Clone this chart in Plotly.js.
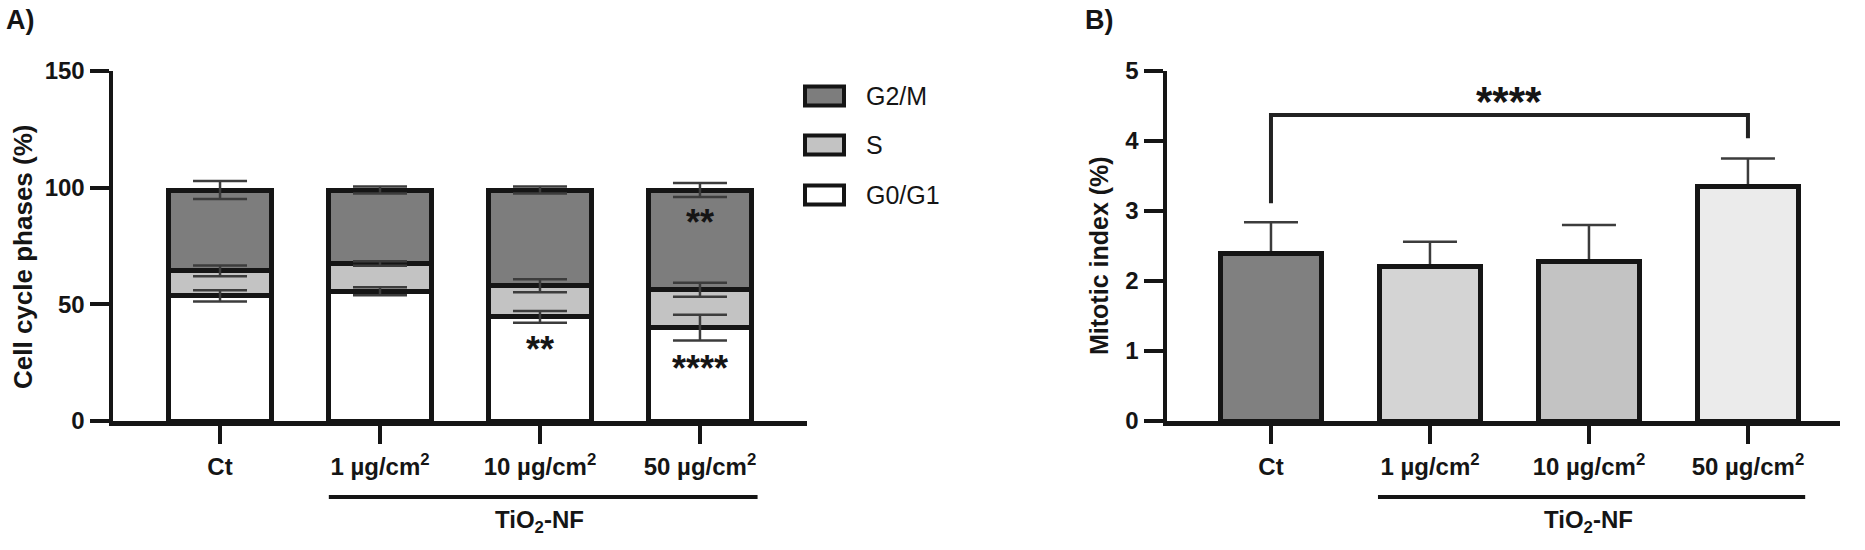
<!DOCTYPE html>
<html>
<head>
<meta charset="utf-8">
<script src="https://cdn.plot.ly/plotly-3.0.1.min.js"></script>
<style>html,body{margin:0;padding:0;background:#fff;}#chart{width:1865px;height:550px;}</style>
</head>
<body>
<div id="chart"></div>
<script>
// ---------- data ----------
const categories = ['Ct', '1 µg/cm<sup>2</sup>', '10 µg/cm<sup>2</sup>', '50 µg/cm<sup>2</sup>'];
const phaseNames = ['G2/M', 'S', 'G0/G1'];
const g0g1 = [53.6, 55.6, 44.6, 40.0];
const g0g1Err = [2.4, 1.7, 2.5, 5.5];
const sPhase = [10.7, 11.9, 13.4, 16.2];
const sErr = [2.3, 1.0, 2.8, 3.0];
const g2m = [34.7, 31.5, 41.0, 42.8];
const g2mErr = [3.9, 1.5, 1.5, 3.0];
const mitotic = [2.40, 2.21, 2.28, 3.35];
const mitoticErr = [0.44, 0.35, 0.52, 0.40];
const yTicksA = [0, 50, 100, 150];
const yTicksB = [0, 1, 2, 3, 4, 5];

// ---------- styles ----------
const FONT = 'Liberation Sans, Arial, Helvetica, sans-serif';
const INK = '#151515';
const ERRC = '#3c3c3c';
const W = 1865, H = 550;
const px = v => v / W;
const py = v => 1 - v / H;
const phaseFill = {'G2/M': '#7d7d7d', 'S': '#c3c3c3', 'G0/G1': '#ffffff'};
const mitoticFill = ['#808080', '#d4d4d4', '#c3c3c3', '#ebebeb'];
const BARW = 0.64;

const cumS = g0g1.map((v, i) => v + sPhase[i]);
const cumAll = cumS.map((v, i) => v + g2m[i]);

const barLine = {color: INK, width: 5};
const traces = [];
// stacked bars (panel A)
[['G0/G1', g0g1], ['S', sPhase], ['G2/M', g2m]].forEach(([name, vals]) => {
  traces.push({type: 'bar', name: name, x: categories, y: vals, width: BARW,
    marker: {color: phaseFill[name], line: barLine}, xaxis: 'x', yaxis: 'y', hoverinfo: 'skip'});
});
// error bars on top of each stacked segment
[[g0g1, g0g1Err], [cumS, sErr], [cumAll, g2mErr]].forEach(([tops, errs]) => {
  traces.push({type: 'scatter', mode: 'markers', x: categories, y: tops,
    marker: {size: 1, color: 'rgba(0,0,0,0)'},
    error_y: {type: 'data', array: errs, symmetric: true, color: ERRC, thickness: 2.5, width: 27},
    xaxis: 'x', yaxis: 'y', hoverinfo: 'skip'});
});
// panel B: error bars in the base subplot (beneath), bars in an overlay subplot (above)
traces.push({type: 'scatter', mode: 'markers', x: categories, y: mitotic,
  marker: {size: 1, color: 'rgba(0,0,0,0)'},
  error_y: {type: 'data', array: mitoticErr, symmetric: true, color: ERRC, thickness: 2.5, width: 27},
  xaxis: 'x2', yaxis: 'y2', hoverinfo: 'skip'});
traces.push({type: 'bar', x: categories, y: mitotic, width: BARW,
  marker: {color: mitoticFill, line: barLine},
  xaxis: 'x3', yaxis: 'y3', hoverinfo: 'skip'});
// significance bracket (panel B): Ct vs 50 µg/cm2
const bracketTop = 4.37, bracketLeftEnd = 3.11, bracketRightEnd = 4.04;
traces.push({type: 'scatter', mode: 'lines',
  x: [categories[0], categories[0], categories[3], categories[3]],
  y: [bracketLeftEnd, bracketTop, bracketTop, bracketRightEnd],
  line: {color: '#222', width: 4}, xaxis: 'x2', yaxis: 'y2', hoverinfo: 'skip'});

const yDom = [py(421), py(71)];
const axCommon = {
  showline: true, linewidth: 4.5, linecolor: INK, showgrid: false, zeroline: false,
  ticks: 'outside', tickwidth: 4, tickcolor: INK, fixedrange: true
};
const xTickFont = {family: FONT, size: 24, color: INK, weight: 'bold'};
const yTickFont = {family: FONT, size: 24, color: INK, weight: 'bold'};
const rangeA = [-0.669, 3.669];
const rangeB = [-0.654, 3.579];

const layout = {
  width: W, height: H, margin: {l: 0, r: 0, t: 0, b: 0},
  paper_bgcolor: '#fff', plot_bgcolor: '#fff', showlegend: false, barmode: 'stack',
  font: {family: FONT, color: INK},
  xaxis: Object.assign({}, axCommon, {domain: [px(113), px(807)], type: 'category',
    categoryorder: 'array', categoryarray: categories, range: rangeA,
    ticklen: 18, tickfont: xTickFont, ticklabelstandoff: 3, anchor: 'y'}),
  yaxis: Object.assign({}, axCommon, {domain: yDom, range: [0, 150], tickvals: yTicksA,
    ticklen: 19, tickfont: yTickFont, anchor: 'x'}),
  xaxis2: Object.assign({}, axCommon, {domain: [px(1167), px(1840)], type: 'category',
    categoryorder: 'array', categoryarray: categories, range: rangeB,
    ticklen: 18, tickfont: xTickFont, ticklabelstandoff: 3, anchor: 'y2'}),
  yaxis2: Object.assign({}, axCommon, {domain: yDom, range: [0, 5], tickvals: yTicksB,
    ticklen: 19, tickfont: yTickFont, anchor: 'x2'}),
  xaxis3: {overlaying: 'x2', anchor: 'y3', type: 'category', categoryorder: 'array',
    categoryarray: categories, range: rangeB, visible: false, fixedrange: true},
  yaxis3: {overlaying: 'y2', anchor: 'x3', range: [0, 5], visible: false, fixedrange: true},
  shapes: [], annotations: []
};

// group underline + label
[['x', 0.68, 3.36], ['x2', 0.673, 3.36]].forEach(([xr, a, b]) => {
  layout.shapes.push({type: 'line', xref: xr, yref: 'paper', x0: a, x1: b, y0: py(497), y1: py(497),
    line: {color: INK, width: 4}});
  layout.annotations.push({xref: xr, yref: 'paper', x: categories[2], y: py(521), text: 'TiO<sub>2</sub>-NF',
    showarrow: false, xanchor: 'center', yanchor: 'middle', font: {family: FONT, size: 24, color: INK, weight: 'bold'}});
});

// axis titles
layout.annotations.push({xref: 'paper', yref: 'paper', x: px(23), y: py(257), text: 'Cell cycle phases (%)',
  textangle: -90, showarrow: false, xanchor: 'center', yanchor: 'middle',
  font: {family: FONT, size: 26, color: INK, weight: 'bold'}});
layout.annotations.push({xref: 'paper', yref: 'paper', x: px(1099), y: py(256), text: 'Mitotic index (%)',
  textangle: -90, showarrow: false, xanchor: 'center', yanchor: 'middle',
  font: {family: FONT, size: 25, color: INK, weight: 'bold'}});

// panel letters
layout.annotations.push({xref: 'paper', yref: 'paper', x: px(4), y: py(20), text: 'A)', showarrow: false,
  xanchor: 'left', yanchor: 'middle', font: {family: FONT, size: 27, color: INK, weight: 'bold'}});
layout.annotations.push({xref: 'paper', yref: 'paper', x: px(1083), y: py(20), text: 'B)', showarrow: false,
  xanchor: 'left', yanchor: 'middle', font: {family: FONT, size: 27, color: INK, weight: 'bold'}});

// significance stars
const starsA = [
  {x: categories[2], y: 34.2, t: '**'},
  {x: categories[3], y: 26.0, t: '****'},
  {x: categories[3], y: 88.5, t: '**'}
];
starsA.forEach(s => layout.annotations.push({xref: 'x', yref: 'y', x: s.x, y: s.y, text: s.t, showarrow: false,
  xanchor: 'center', yanchor: 'middle', yshift: -8, font: {family: FONT, size: 36, color: INK, weight: 'bold'}}));
layout.annotations.push({xref: 'x2', yref: 'y2', x: 1.5, y: 4.67, text: '****', showarrow: false,
  xanchor: 'center', yanchor: 'middle', yshift: -7, font: {family: FONT, size: 42, color: INK, weight: 'bold'}});

// custom legend (panel A)
const legendRows = [[96, 'G2/M'], [145, 'S'], [195, 'G0/G1']];
legendRows.forEach(([cy, name]) => {
  layout.shapes.push({type: 'rect', xref: 'paper', yref: 'paper', x0: px(805), x1: px(844),
    y0: py(cy - 9.5), y1: py(cy + 9.5), fillcolor: phaseFill[name], line: {color: INK, width: 4}});
  layout.annotations.push({xref: 'paper', yref: 'paper', x: px(864), y: py(cy), text: name, showarrow: false,
    xanchor: 'left', yanchor: 'middle', font: {family: FONT, size: 25, color: INK}});
});

Plotly.newPlot('chart', traces, layout, {staticPlot: true, displayModeBar: false});
</script>
</body>
</html>
